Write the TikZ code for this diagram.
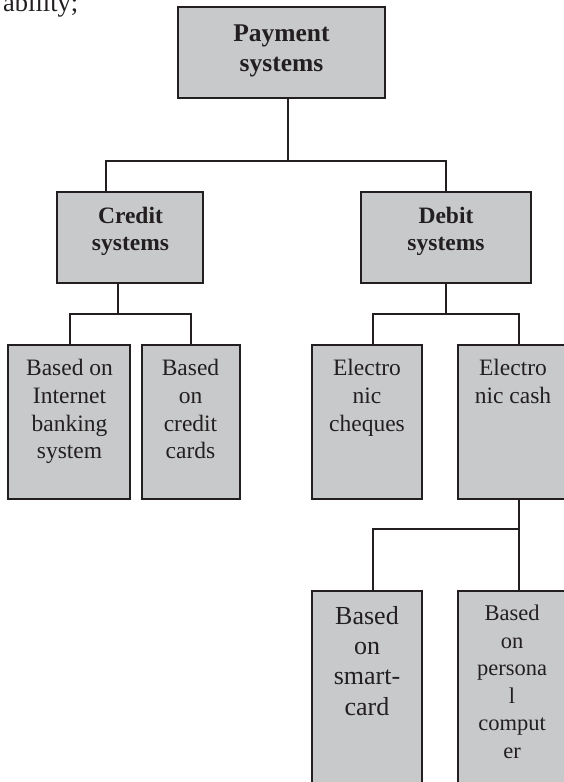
\documentclass[tikz,border=0pt]{standalone}
\usepackage{fontspec}
\setmainfont{Liberation Serif}
\definecolor{ink}{HTML}{231F20}
\definecolor{boxgray}{HTML}{C8C9CB}
\begin{document}
\begin{tikzpicture}[x=1pt,y=-1pt,
  box/.style={draw=ink,fill=boxgray,line width=1.3pt,rectangle,inner sep=0pt,
              outer sep=0pt,anchor=north west},
  wire/.style={draw=ink,line width=1.3pt},
  txt/.style={text=ink,inner sep=0pt,anchor=base}]
\useasboundingbox (0,0) rectangle (564,782);
\clip (0,0) rectangle (564,782);

% running text above the chart
\node[txt,anchor=base west,font=\fontsize{26.5}{30}\selectfont] (run) at (3,11.7) {ability;};

% boxes
\node[box,minimum width=207,minimum height=91] (pay)    at (178,7)   {};
\node[box,minimum width=146,minimum height=91] (credit) at (57,192)  {};
\node[box,minimum width=170,minimum height=91] (debit)  at (361,192) {};
\node[box,minimum width=122,minimum height=154] (inet)  at (8,345)   {};
\node[box,minimum width=98,minimum height=154]  (ccard) at (142,345) {};
\node[box,minimum width=110,minimum height=154] (cheq)  at (312,345) {};
\node[box,minimum width=110,minimum height=154] (ecash) at (458,345) {};
\node[box,minimum width=110,minimum height=220] (smart) at (312,591) {};
\node[box,minimum width=110,minimum height=220] (pc)    at (458,591) {};

% labels, one node per printed line
\foreach \t [count=\i] in {Payment,systems}
  \node[txt,font=\fontsize{25.5}{30}\bfseries] (payl\i) at (281.5,{41+30*(\i-1)}) {\t};
\foreach \t [count=\i] in {Credit,systems}
  \node[txt,font=\fontsize{23.5}{27}\bfseries] (credl\i) at (130.5,{223.3+26.7*(\i-1)}) {\t};
\foreach \t [count=\i] in {Debit,systems}
  \node[txt,font=\fontsize{23.5}{27}\bfseries] (debl\i) at (446,{223.3+26.7*(\i-1)}) {\t};
\foreach \t [count=\i] in {Based on,Internet,banking,system}
  \node[txt,font=\fontsize{23.5}{27}\selectfont] (inetl\i) at (69.5,{375.7+27.7*(\i-1)}) {\t};
\foreach \t [count=\i] in {Based,on,credit,cards}
  \node[txt,font=\fontsize{23.5}{27}\selectfont] (ccl\i) at (190.5,{375.7+27.7*(\i-1)}) {\t};
\foreach \t [count=\i] in {Electro,nic,cheques}
  \node[txt,font=\fontsize{23.5}{27}\selectfont] (chl\i) at (367,{375.7+27.7*(\i-1)}) {\t};
\foreach \t [count=\i] in {Electro,nic cash}
  \node[txt,font=\fontsize{23.5}{27}\selectfont] (ecl\i) at (513,{375.7+27.7*(\i-1)}) {\t};
\foreach \t [count=\i] in {Based,on,smart-,card}
  \node[txt,font=\fontsize{26}{30}\selectfont] (sml\i) at (367,{624+30.4*(\i-1)}) {\t};
\foreach \t [count=\i] in {Based,on,persona,l,comput,er}
  \node[txt,font=\fontsize{22.5}{27}\selectfont] (pcl\i) at (512,{620.7+27.5*(\i-1)}) {\t};

% junction points of the connectors
\coordinate (jpay)  at (288,161);
\coordinate (jcl)   at (106,161);
\coordinate (jdr)   at (446,161);
\coordinate (jcred) at (118,314);
\coordinate (jcrl)  at (70,314);
\coordinate (jcrr)  at (191,314);
\coordinate (jdeb)  at (446,314);
\coordinate (jdbl)  at (373,314);
\coordinate (jdbr)  at (519,314);
\coordinate (jcash) at (519,529);
\coordinate (jcsl)  at (373,529);

% connectors
\draw[wire] (pay.south -| jpay) -- (jpay);
\draw[wire] (credit.north -| jcl) -- (jcl) -- (jdr) -- (debit.north -| jdr);
\draw[wire] (credit.south -| jcred) -- (jcred);
\draw[wire] (inet.north -| jcrl) -- (jcrl) -- (jcrr) -- (ccard.north -| jcrr);
\draw[wire] (debit.south -| jdeb) -- (jdeb);
\draw[wire] (cheq.north -| jdbl) -- (jdbl) -- (jdbr) -- (ecash.north -| jdbr);
\draw[wire] (ecash.south -| jcash) -- (jcash);
\draw[wire] (smart.north -| jcsl) -- (jcsl) -- (jcash) -- (pc.north -| jcash);
\end{tikzpicture}
\end{document}
